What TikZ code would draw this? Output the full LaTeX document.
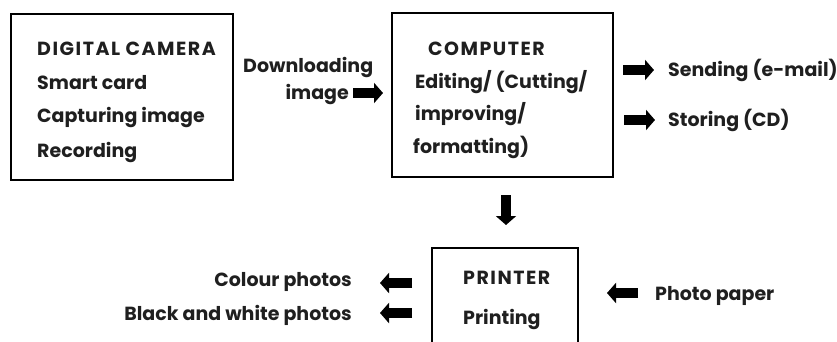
\documentclass[tikz,border=0pt]{standalone}
\usepackage{fontspec}
\setmainfont{Poppins}
\usetikzlibrary{arrows.meta}

\tikzset{
  lbl/.style={anchor=base west, inner sep=0pt, text=black!88,
    font=\bfseries\fontsize{19}{19}\selectfont},
  head/.style={lbl, font=\bfseries\fontsize{19}{19}\selectfont\addfontfeatures{LetterSpace=8}},
  frame/.style={line width=2.6pt},
  blk/.style={line width=10pt, -{Triangle[length=9pt,width=20pt]}}
}

\begin{document}
\begin{tikzpicture}[x=1pt,y=-1pt]
    \useasboundingbox (0,0) rectangle (837,342);
    % boxes
    \draw[frame] (11,14) rectangle (233,180);
    \draw[frame] (392,13) rectangle (613,177);
    \draw[frame] (432,345) -- (432,248) -- (578,248) -- (578,345);
    % digital camera
    \node[head] (cam) at (37,56) {DIGITAL CAMERA};
    \node[lbl] (card) at (37,90) {Smart card};
    \node[lbl] (capt) at (37,122) {Capturing image};
    \node[lbl] (rec) at (37,157) {Recording};
    % downloading
    \node[lbl] (down) at (243,73) {Downloading};
    \node[lbl, anchor=base east] (img) at (349,100) {image};
    \coordinate (imgend) at (383,93);
    \draw[blk] (353,93) -- (imgend);
    % computer
    \node[head] (comp) at (428,56) {COMPUTER};
    \node[lbl] (edit) at (415,89) {Editing/ (Cutting/};
    \node[lbl] (impr) at (415,121) {improving/};
    \node[lbl] (form) at (413,153) {formatting)};
    \node[lbl] (send) at (668,77) {Sending (e-mail)};
    \node[lbl] (stor) at (668,127) {Storing (CD)};
    \draw[blk] (623,70) -- ([xshift=-14pt]send.west |- 0,70);
    \draw[blk] (624,120) -- ([xshift=-13pt]stor.west |- 0,120);
    % to printer
    \draw[blk] (506,195) -- (506,225);
    % printer
    \node[head] (prn) at (463,284) {PRINTER};
    \node[lbl] (prt) at (463,324) {Printing};
    \node[lbl, anchor=base east] (col) at (352,286) {Colour photos};
    \node[lbl, anchor=base east] (bw) at (352,320) {Black and white photos};
    \draw[blk] (412,283) -- (380,283);
    \draw[blk] (412,313) -- (380,313);
    \node[lbl] (pap) at (655,300) {Photo paper};
    \draw[blk] (638,293) -- (607,293);
\end{tikzpicture}
\end{document}
